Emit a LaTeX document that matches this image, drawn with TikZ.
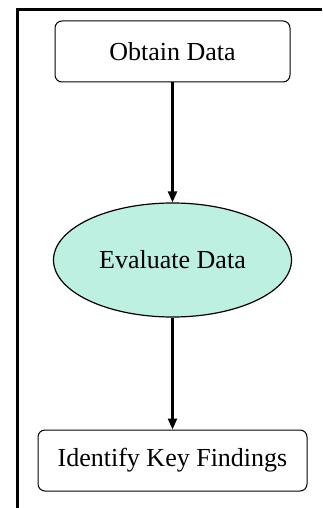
\documentclass[tikz,border=0pt]{standalone}
\usepackage{fontspec}
\setmainfont{Liberation Serif}
\usetikzlibrary{shapes.geometric,arrows.meta}
\definecolor{evalfill}{RGB}{190,240,225}
\tikzset{
  stepbox/.style={draw, line width=1pt, rounded corners=7pt, inner sep=0pt,
    minimum height=61pt, font=\fontsize{26}{30}\selectfont},
  evalnode/.style={draw, ellipse, line width=1.2pt, fill=evalfill, inner sep=0pt,
    minimum width=238pt, minimum height=114pt, font=\fontsize{26}{30}\selectfont},
  flow/.style={line width=2.2pt, -{Triangle[length=11pt,width=9pt]}},
  frame/.style={line width=2.4pt}
}
\begin{document}
\begin{tikzpicture}[x=1pt,y=-1pt]
\useasboundingbox (0,0) rectangle (322,508);
\coordinate (ftr) at (322,9.5);
\coordinate (ftl) at (17.5,9.5);
\coordinate (fbl) at (17.5,508);
\draw[frame] (ftr) -- (ftl) -- (fbl);
\node[stepbox, minimum width=235pt] (obtain) at (172.5,51.5) {Obtain Data};
\node[evalnode] (evaluate) at (172.5,260) {Evaluate Data};
\node[stepbox, minimum width=269pt] (identify) at (172.5,460.5) {Identify Key Findings};
\draw[flow] (obtain) -- (evaluate);
\draw[flow] (evaluate) -- (identify);
\end{tikzpicture}
\end{document}
